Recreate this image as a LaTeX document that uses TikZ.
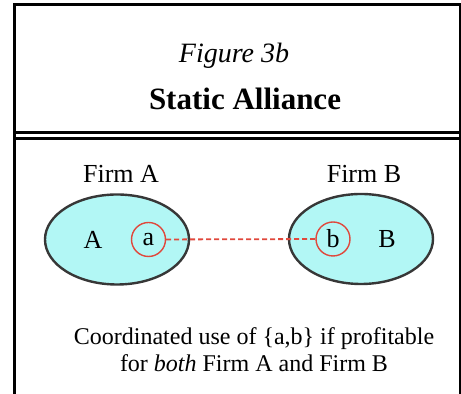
\documentclass[tikz,border=0pt]{standalone}
\usepackage{fontspec}
\setmainfont{LiberationSerif}[Extension=.ttf, UprightFont=*-Regular,
  BoldFont=*-Bold, ItalicFont=*-Italic, BoldItalicFont=*-BoldItalic]
\usetikzlibrary{shapes.geometric}

\definecolor{firmfill}{RGB}{178,247,245}
\definecolor{rimgray}{RGB}{55,55,55}
\definecolor{linkred}{RGB}{224,72,60}

\tikzset{
  frame/.style={line width=1.5pt},
  firm/.style={ellipse, draw=rimgray, line width=1.2pt, fill=firmfill,
    minimum width=72pt, minimum height=45pt, inner sep=0pt},
  asset/.style={circle, draw=linkred, line width=0.7pt, minimum size=17pt,
    inner sep=0pt, font=\fontsize{13}{15}\selectfont},
  plain/.style={font=\fontsize{13}{15}\selectfont},
  link/.style={draw=linkred, line width=0.9pt, dash pattern=on 2.5pt off 1.5pt}
}

\begin{document}
\begin{tikzpicture}[x=0.5pt, y=-0.5pt]
    \useasboundingbox (0,0) rectangle (461,394);

    % frame and double rule
    \draw[frame] (14.5,394) -- (14.5,4.5) -- (460,4.5) -- (460,394);
    \draw[frame] (14.5,132.5) -- (460,132.5);
    \draw[frame] (14.5,138.5) -- (460,138.5);

    \node[anchor=base, font=\itshape\fontsize{14}{17}\selectfont] (figno) at (234,63) {Figure 3b};
    \node[anchor=base, font=\bfseries\fontsize{15.5}{18}\selectfont] (title) at (245,110) {Static Alliance};

    % the two firms
    \node[firm] (firmA) at (117,239.5) {};
    \node[firm] (firmB) at (361,239) {};
    \node[plain, anchor=base] (nameA) at (121,183) {Firm A};
    \node[plain, anchor=base] (nameB) at (364,183) {Firm B};

    \node[plain] (capA) at (93,239.5) {A};
    \node[plain] (capB) at (387,239) {B};
    \node[asset] (a) at (148.5,239.5) {a};
    \node[asset] (b) at (333,239) {b};
    \draw[link] (a) -- (b);

    \node[anchor=base, align=center, font=\fontsize{12}{13.5}\selectfont] (note) at (254,372)
      {Coordinated use of \{a,b\} if profitable\\for \textit{both} Firm A and Firm B};
\end{tikzpicture}
\end{document}
